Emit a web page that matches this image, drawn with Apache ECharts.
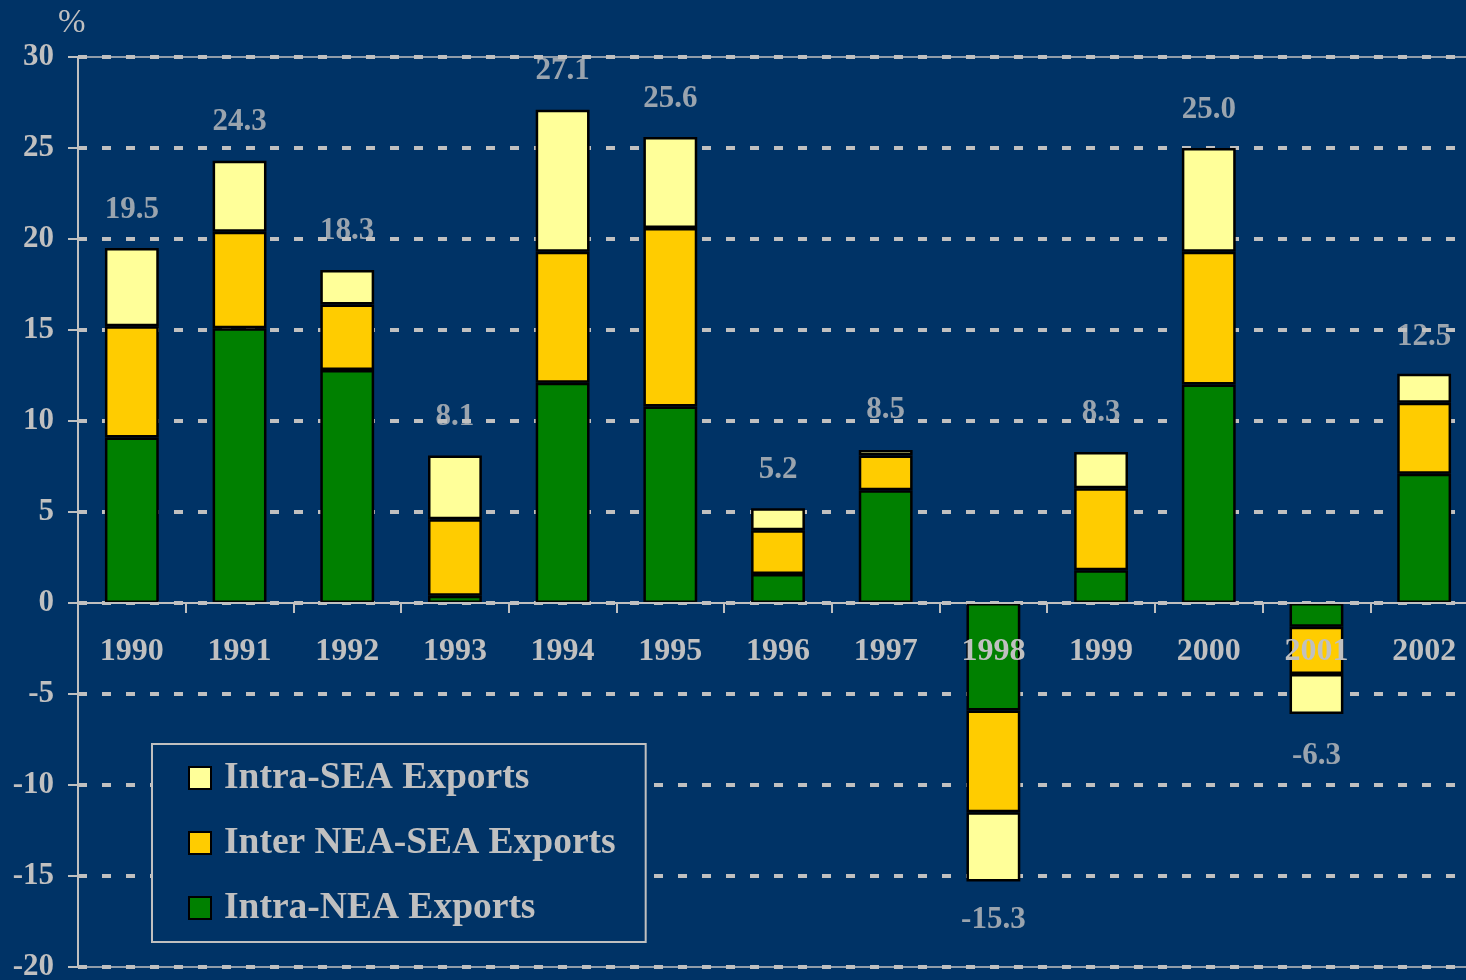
<!DOCTYPE html>
<html>
<head>
<meta charset="utf-8">
<script src="https://cdn.jsdelivr.net/npm/echarts@6/dist/echarts.min.js"></script>
<style>
html,body{margin:0;padding:0;background:#003366;}
#c{width:1466px;height:980px;}
</style>
</head>
<body>
<div id="c"></div>
<script>
var years = ['1990','1991','1992','1993','1994','1995','1996','1997','1998','1999','2000','2001','2002'];
var intraNEA = [9.1, 15.1, 12.8, 0.4, 12.1, 10.8, 1.6, 6.2, -5.9, 1.8, 12.0, -1.3, 7.1];
var interNEASEA = [6.1, 5.3, 3.6, 4.2, 7.2, 9.8, 2.4, 1.9, -5.6, 4.5, 7.3, -2.6, 3.9];
var intraSEA = [4.3, 3.9, 1.9, 3.5, 7.8, 5.0, 1.2, 0.3, -3.8, 2.0, 5.7, -2.2, 1.6];
var totals = [19.5, 24.3, 18.3, 8.1, 27.1, 25.6, 5.2, 8.5, -15.3, 8.3, 25.0, -6.3, 12.5];
var yTicks = [-20, -15, -10, -5, 0, 5, 10, 15, 20, 25, 30];

var silver = '#c0c0c0';
var font = '"Liberation Serif","Times New Roman",serif';
var W = 1466, H = 980;
var gridTop = 57, gridBottom = 13, gridLeft = 78, gridRight = -12;
var yMin = yTicks[0], yMax = yTicks[yTicks.length - 1];
var plotH = H - gridTop - gridBottom;
// move the category axis from the bottom edge up to the zero line
var zeroOffset = -plotH * (0 - yMin) / (yMax - yMin);

var chart = echarts.init(document.getElementById('c'));

function barSeries(name, data, color) {
  return {
    name: name, type: 'bar', stack: 'total', data: data, barWidth: '50%',
    itemStyle: { color: color, borderColor: '#000', borderWidth: 2.5 },
    z: 2
  };
}

var totalPoints = totals.map(function (v) {
  return { value: v, label: { position: v >= 0 ? 'top' : 'bottom' } };
});

chart.setOption({
  backgroundColor: '#003366',
  animation: false,
  textStyle: { fontFamily: font },
  title: {
    text: '%', left: 53, top: 2,
    textStyle: { color: silver, fontFamily: font, fontSize: 33, fontWeight: 'normal' }
  },
  grid: {
    left: gridLeft, right: gridRight, top: gridTop, bottom: gridBottom,
    containLabel: false, outerBoundsMode: 'none',
    show: true, borderColor: silver, borderWidth: 1.5, backgroundColor: 'transparent'
  },
  legend: {
    data: ['Intra-SEA Exports', 'Inter NEA-SEA Exports', 'Intra-NEA Exports'],
    orient: 'vertical', left: 152, top: 744,
    padding: [14, 30, 14, 36],
    itemGap: 25, itemWidth: 22, itemHeight: 22, icon: 'rect',
    backgroundColor: '#003366', borderColor: silver, borderWidth: 2, borderRadius: 0,
    itemStyle: { borderColor: '#000', borderWidth: 2 },
    textStyle: { color: silver, fontFamily: font, fontWeight: 'bold', fontSize: 37.5, lineHeight: 40, padding: [0, 0, 0, 8] },
    z: 6
  },
  xAxis: {
    type: 'category', data: years, position: 'bottom', offset: zeroOffset,
    axisLine: { onZero: false, lineStyle: { color: silver, width: 2 } },
    axisTick: { show: true, length: 10, lineStyle: { color: silver, width: 2 } },
    axisLabel: { color: silver, fontFamily: font, fontWeight: 'bold', fontSize: 32, margin: 33 },
    splitLine: { show: false },
    z: 10
  },
  yAxis: {
    type: 'value', min: yMin, max: yMax, interval: 5,
    axisLine: { show: true, lineStyle: { color: silver, width: 2 } },
    axisTick: { show: true, length: 10, lineStyle: { color: silver, width: 2 } },
    axisLabel: { color: silver, fontFamily: font, fontWeight: 'bold', fontSize: 31, margin: 24 },
    splitLine: { show: true, lineStyle: { color: silver, width: 4, type: [9, 15] } }
  },
  series: [
    barSeries('Intra-NEA Exports', intraNEA, '#008000'),
    barSeries('Inter NEA-SEA Exports', interNEASEA, '#ffcc00'),
    barSeries('Intra-SEA Exports', intraSEA, '#ffff99'),
    {
      name: 'Total', type: 'scatter', data: totalPoints, symbolSize: 0, z: 5,
      silent: true,
      label: {
        show: true, distance: 23, color: silver, fontFamily: font, fontWeight: 'bold', fontSize: 31,
        formatter: function (p) { return p.value.toFixed(1); }
      }
    }
  ]
});
</script>
</body>
</html>
